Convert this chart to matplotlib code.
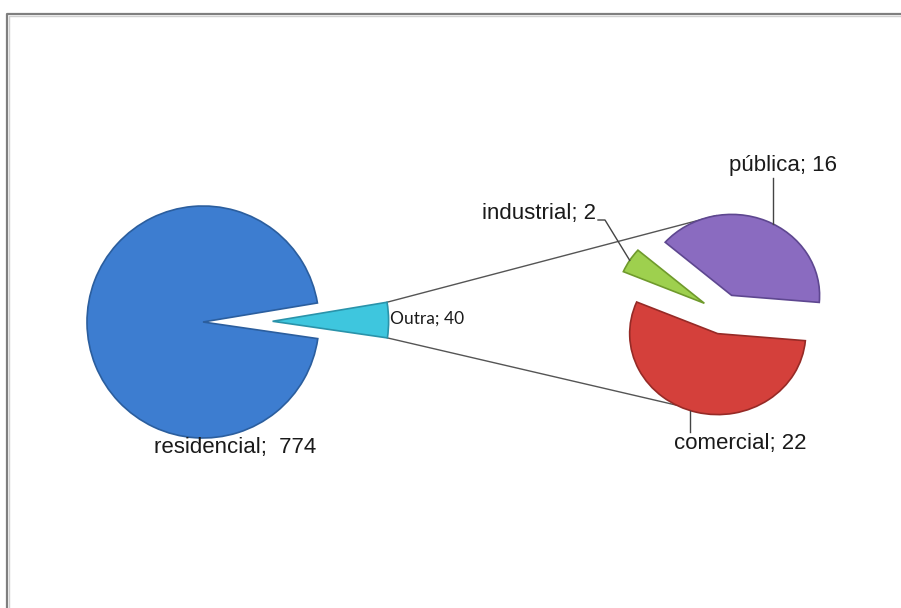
import numpy as np
import matplotlib
matplotlib.use("Agg")
import matplotlib.pyplot as plt
from matplotlib.lines import Line2D
from matplotlib.transforms import Affine2D

# main pie
main_labels = ["residencial", "Outra"]
main_values = [774, 40]
main_colors = ["#3d7dd0", "#3ec6de"]
main_edges = ["#2b5e9e", "#2a93aa"]

# secondary pie (breakdown of "Outra")
sub_labels = ["comercial", "industrial", "pública"]
sub_values = [22, 2, 16]
sub_colors = ["#d4403b", "#9ed04e", "#8a6bc0"]
sub_edges = ["#962a26", "#6f9a2c", "#5e4790"]

W, H = 901, 608
fig = plt.figure(figsize=(W / 100, H / 100), dpi=100)
ax = fig.add_axes([0, 0, 1, 1])


def py(y):
    # pixel row -> data y
    return H - y


# main pie: Outra wedge pulled out to the right
r_main, r_sub = 116, 88
out_frac = main_values[1] / sum(main_values)
start = 0.6 + out_frac * 180
wm, _ = ax.pie(main_values, colors=main_colors, startangle=start,
               radius=r_main, center=(203, py(322)), explode=[0, 0.6 * r_main],
               wedgeprops=dict(linewidth=1.2), frame=True)
for w, ec in zip(wm, main_edges):
    w.set_edgecolor(ec)

# secondary pie, every slice exploded, slightly flattened (perspective look)
sub_c = (723, py(314))
squash = 0.92
ws, _ = ax.pie(sub_values, colors=sub_colors, startangle=-5, counterclock=False,
               radius=r_sub, center=sub_c, explode=[0.25 * r_sub] * 3,
               wedgeprops=dict(linewidth=1.2), frame=True)
flat = Affine2D().translate(-sub_c[0], -sub_c[1]).scale(1, squash).translate(*sub_c)
for w, ec in zip(ws, sub_edges):
    w.set_edgecolor(ec)
    w.set_transform(flat + ax.transData)

ax.set_xlim(0, W)
ax.set_ylim(0, H)
ax.set_aspect("equal")
ax.axis("off")


def arc_point(w, ang, tr=None):
    cx, cy = w.center
    a = np.deg2rad(ang)
    pt = (cx + w.r * np.cos(a), cy + w.r * np.sin(a))
    if tr is not None:
        pt = tr.transform(pt)
    return pt


# connector lines from Outra wedge to the secondary pie
outra = wm[1]
p_top = arc_point(outra, outra.theta2)
p_bot = arc_point(outra, outra.theta1)
q_top = arc_point(ws[2], 100, flat)
q_bot = arc_point(ws[0], -118, flat)
ax.plot([p_top[0], q_top[0]], [p_top[1], q_top[1]], color="#555555", lw=1, zorder=0)
ax.plot([p_bot[0], q_bot[0]], [p_bot[1], q_bot[1]], color="#555555", lw=1, zorder=0)

lab_font = dict(family=["Liberation Sans", "DejaVu Sans"], fontsize=16, color="#1a1a1a")

ax.text(235, py(447), f"{main_labels[0]};  {main_values[0]}", ha="center", va="center", **lab_font)
ax.text(390, py(319), f"{main_labels[1]}; {main_values[1]}", ha="left", va="center",
        family=["Lato", "DejaVu Sans"], fontsize=12.5, color="#1a1a1a")

# industrial label + leader
ax.text(596, py(213), f"{sub_labels[1]}; {sub_values[1]}", ha="right", va="center", **lab_font)
g = arc_point(ws[1], (ws[1].theta1 + ws[1].theta2) / 2, flat)
ax.plot([598, 605, g[0]], [py(220), py(220), g[1]], color="#444444", lw=1)

# pública label + leader
ax.text(783, py(165), f"{sub_labels[2]}; {sub_values[2]}", ha="center", va="center", **lab_font)
p = arc_point(ws[2], 62, flat)
ax.plot([p[0], p[0]], [py(178), p[1]], color="#444444", lw=1)

# comercial label + leader
ax.text(740, py(444), f"{sub_labels[0]}; {sub_values[0]}", ha="center", va="center", **lab_font)
c = arc_point(ws[0], -108, flat)
ax.plot([c[0], c[0]], [py(432), c[1]], color="#444444", lw=1)

# chart-area frame (left and top edges visible)
fig.add_artist(Line2D([6.5 / W, 6.5 / W, 1], [0, 1 - 13.5 / H, 1 - 13.5 / H],
                      transform=fig.transFigure, color="#7f7f7f", lw=1.6))
fig.add_artist(Line2D([8.5 / W, 8.5 / W, 1], [0, 1 - 15.5 / H, 1 - 15.5 / H],
                      transform=fig.transFigure, color="#d0d0d0", lw=1))

fig.savefig("out.png", dpi=100)
